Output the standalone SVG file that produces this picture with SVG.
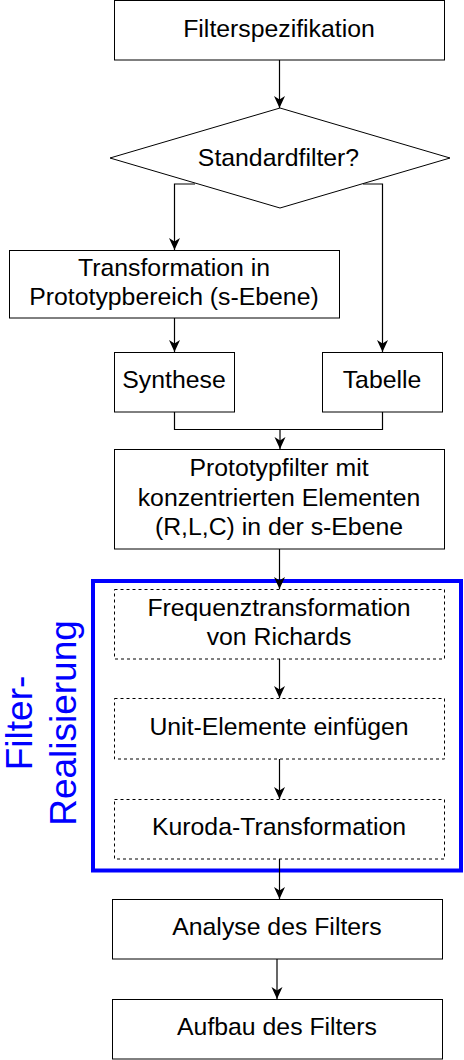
<svg xmlns="http://www.w3.org/2000/svg" width="464" height="1060" viewBox="0 0 464 1060">
<style>
.box{fill:#fff;stroke:#000;stroke-width:1}
.dash{fill:#fff;stroke:#000;stroke-width:1;stroke-dasharray:3 3}
.t{font-family:"Liberation Sans",Arial,Helvetica,sans-serif;font-size:24.8px;fill:#000;text-anchor:middle}
.edge{fill:none;stroke:#000;stroke-width:1.2}
.arr{marker-end:url(#ah)}
.side{font-family:"Liberation Sans",Arial,Helvetica,sans-serif;font-size:37px;fill:#0000ff;text-anchor:middle}
</style>
<defs>
<marker id="ah" markerUnits="userSpaceOnUse" markerWidth="14" markerHeight="14" viewBox="0 0 14 14" refX="12" refY="7" orient="auto">
<path d="M0,1.5 L12,7 L0,12.5 L3.5,7 Z" fill="#000"/>
</marker>
</defs>
<rect width="464" height="1060" fill="#fff"/>
<g id="group-filter-realisierung">
<rect x="93" y="581" width="368" height="289.5" fill="none" stroke="#0000ff" stroke-width="4"/>
<text class="side" transform="translate(32,723) rotate(-90)">Filter-</text>
<text class="side" transform="translate(76,723) rotate(-90)">Realisierung</text>
</g>
<g id="connectors">
<path class="edge arr" d="M279.5,60 V108"/>
<path class="edge arr" d="M195,184 H174.5 V250"/>
<path class="edge arr" d="M363,184 H382.5 V352"/>
<path class="edge arr" d="M174.5,318 V352"/>
<path class="edge" d="M174.5,412 V429.5 H382.5 V412"/>
<path class="edge arr" d="M280,429.5 V449"/>
<path class="edge arr" d="M279.5,549 V589"/>
<path class="edge arr" d="M279.5,659 V698"/>
<path class="edge arr" d="M279.5,759 V799"/>
<path class="edge arr" d="M279.5,859 V899"/>
<path class="edge arr" d="M277,959 V999"/>
</g>
<g id="node-filterspezifikation">
<rect class="box" x="114.5" y="0.5" width="330" height="59.5"/>
<text class="t" x="279" y="37">Filterspezifikation</text>
</g>
<g id="node-standardfilter">
<polygon class="box" points="280,108 450,158 280,208 110,158"/>
<text class="t" x="278.5" y="166">Standardfilter?</text>
</g>
<g id="node-transformation">
<rect class="box" x="9.5" y="250.5" width="330" height="67.5"/>
<text class="t" x="174" y="276">Transformation in</text>
<text class="t" x="174" y="305">Prototypbereich (s-Ebene)</text>
</g>
<g id="node-synthese">
<rect class="box" x="114.5" y="352.5" width="120" height="59.5"/>
<text class="t" x="174" y="388">Synthese</text>
</g>
<g id="node-tabelle">
<rect class="box" x="322.5" y="352.5" width="120" height="59.5"/>
<text class="t" x="382" y="388">Tabelle</text>
</g>
<g id="node-prototypfilter">
<rect class="box" x="114.5" y="449.5" width="330" height="99.5"/>
<text class="t" x="279" y="476">Prototypfilter mit</text>
<text class="t" x="279" y="506">konzentrierten Elementen</text>
<text class="t" x="279" y="535">(R,L,C) in der s-Ebene</text>
</g>
<g id="node-frequenztransformation">
<rect class="dash" x="114.5" y="589.5" width="330" height="69.5"/>
<text class="t" x="279" y="616">Frequenztransformation</text>
<text class="t" x="279" y="645">von Richards</text>
</g>
<g id="node-unit-elemente">
<rect class="dash" x="114.5" y="698.5" width="330" height="60.5"/>
<text class="t" x="279" y="735">Unit-Elemente einfügen</text>
</g>
<g id="node-kuroda">
<rect class="dash" x="114.5" y="799.5" width="330" height="59.5"/>
<text class="t" x="279" y="835">Kuroda-Transformation</text>
</g>
<g id="node-analyse">
<rect class="box" x="112.5" y="899.5" width="330" height="59.5"/>
<text class="t" x="277" y="935">Analyse des Filters</text>
</g>
<g id="node-aufbau">
<rect class="box" x="112.5" y="999.5" width="330" height="59.5"/>
<text class="t" x="277" y="1035">Aufbau des Filters</text>
</g>
</svg>
